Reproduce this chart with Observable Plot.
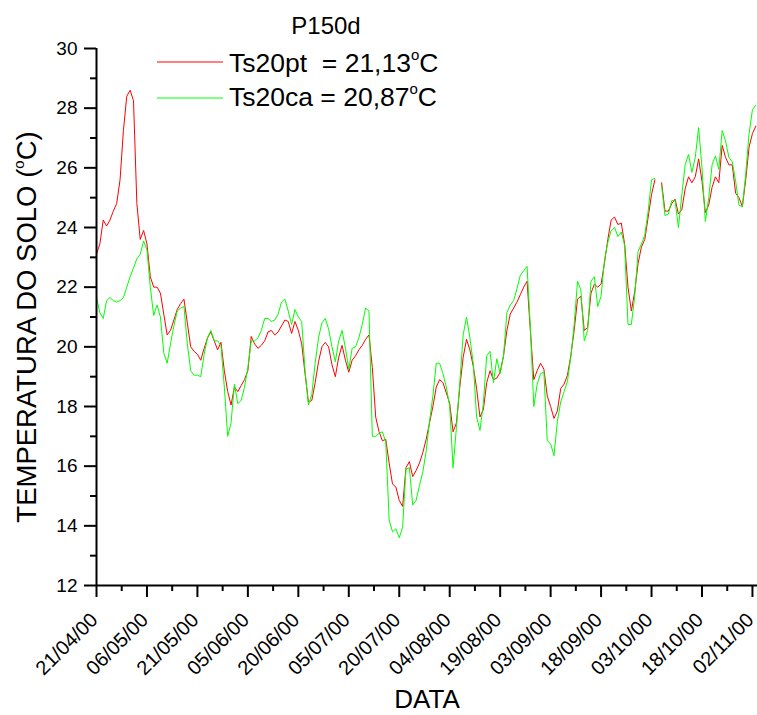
<!DOCTYPE html>
<html>
<head>
<meta charset="utf-8">
<script src="https://cdn.jsdelivr.net/npm/d3@7"></script>
<script src="https://cdn.jsdelivr.net/npm/@observablehq/plot@0.6"></script>
<style>
html, body { margin: 0; padding: 0; background: #fff; }
#chart { position: relative; width: 757px; height: 715px; }
</style>
</head>
<body>
<div id="chart"></div>
<script>
// ---- data (daily values from 21/04/00) ----
const startDate = [2000, 3, 21];
const ts20pt = [
  23.1, 23.45, 24.25, 24.05, 24.25, 24.55, 24.8, 25.6, 27.25, 28.4,
  28.6, 28.25, 24.8, 23.6, 23.9, 23.45, 22.35, 22.0, 22.0, 21.8,
  21.1, 20.4, 20.55, 20.9, 21.25, 21.45, 21.6, 20.8, 20.0, 19.85,
  19.75, 19.55, 19.95, 20.3, 20.5, 20.2, 19.9, 20.15, 19.2, 18.5,
  18.05, 18.65, 18.5, 18.7, 18.9, 19.2, 20.35, 20.1, 19.95, 20.05,
  20.2, 20.5, 20.55, 20.4, 20.5, 20.7, 20.9, 20.85, 20.45, 20.85,
  20.55, 20.1, 19.1, 18.15, 18.2, 18.8, 19.5, 20.0, 20.15, 20.0,
  19.4, 19.0, 19.65, 20.05, 19.55, 19.15, 19.55, 19.7, 19.9, 20.05,
  20.25, 20.4, 19.3, 17.65, 17.15, 16.85, 16.9, 16.1, 15.4, 15.3,
  14.85, 14.65, 15.95, 16.15, 15.65, 15.85, 16.1, 16.45, 16.9, 17.45,
  18.0, 18.65, 18.9, 18.8, 18.45, 18.1, 17.15, 17.45, 18.65, 19.65,
  20.25, 19.9, 19.35, 18.6, 17.65, 17.9, 18.8, 19.2, 18.9, 18.95,
  19.15, 19.7, 20.55, 21.1, 21.3, 21.5, 21.75, 22.0, 22.2, 20.5,
  18.9, 19.2, 19.45, 19.25, 18.35, 18.0, 17.6, 17.85, 18.6, 18.75,
  19.05, 19.7, 20.55, 21.6, 21.7, 20.55, 20.65, 21.8, 22.1, 22.0,
  22.1, 22.8, 23.6, 24.25, 24.35, 24.1, 24.15, 23.45, 22.0, 21.2,
  21.85, 22.8, 23.35, 23.6, 24.35, 25.1, 25.6, null, 25.5, 24.55,
  24.55, 24.8, 24.95, 24.45, 24.6, 25.3, 25.7, 25.5, 25.7, 26.3,
  25.55, 24.5, 24.75, 25.35, 25.7, 25.5, 26.75, 26.35, 26.1, 26.1,
  25.15, 25.0, 24.7, 25.6, 26.7, 27.15, 27.4
];
const ts20ca = [
  21.65, 21.15, 20.95, 21.55, 21.65, 21.55, 21.5, 21.55, 21.65, 22.0,
  22.35, 22.65, 22.95, 23.1, 23.55, 23.25, 22.0, 21.05, 21.4, 21.0,
  19.8, 19.45, 20.1, 20.7, 21.2, 21.3, 21.35, 20.1, 19.2, 19.05,
  19.05, 19.0, 19.75, 20.3, 20.55, 20.2, 20.2, 20.05, 18.65, 17.0,
  17.45, 18.75, 18.1, 18.2, 18.65, 19.3, 20.2, 20.2, 20.3, 20.55,
  20.95, 20.95, 20.85, 20.9, 21.1, 21.5, 21.6, 21.2, 20.75, 21.25,
  21.0, 20.85, 19.2, 18.05, 18.4, 19.45, 20.3, 20.8, 20.95, 20.6,
  20.0, 19.5, 20.2, 20.55, 19.95, 19.25, 19.95, 20.0, 20.3, 20.75,
  21.3, 21.2, 17.0, 17.0, 17.1, 17.15, 16.8, 14.2, 13.8, 13.9,
  13.6, 13.95, 15.9, 15.95, 14.7, 14.85, 15.35, 15.8, 16.5, 17.5,
  18.35, 19.45, 19.45, 19.1, 18.65, 18.0, 15.95, 17.3, 18.8, 20.4,
  21.0, 20.3, 19.45, 17.65, 17.2, 18.1, 19.7, 19.85, 18.8, 19.6,
  19.1, 19.7, 21.15, 21.4, 21.55, 21.95, 22.4, 22.55, 22.7, 20.6,
  18.0, 18.75, 19.1, 19.15, 16.85, 16.75, 16.35, 17.5, 18.15, 18.5,
  18.85, 19.65, 20.75, 22.2, 21.9, 20.2, 20.55, 22.2, 22.35, 21.35,
  21.7, 22.9, 23.5, 23.9, 24.0, 23.7, 23.85, 23.4, 20.75, 20.75,
  21.7, 23.2, 23.45, 23.75, 24.55, 25.6, 25.65, null, 25.4, 24.4,
  24.45, 24.9, 24.9, 24.0, 25.1, 26.1, 26.45, 25.85, 26.35, 27.35,
  26.0, 24.2, 25.0, 26.1, 26.4, 25.95, 27.25, 26.9, 26.35, 26.2,
  25.55, 24.75, 24.7, 25.8, 27.15, 27.95, 28.1
];
const seriesNames = ["Ts20pt  = ", "Ts20ca = "];
const seriesMeans = ["21,13", "20,87"];
const seriesColors = ["#ff0000", "#00ff00"];
const xTickLabels = ["21/04/00", "06/05/00", "21/05/00", "05/06/00", "20/06/00", "05/07/00", "20/07/00",
  "04/08/00", "19/08/00", "03/09/00", "18/09/00", "03/10/00", "18/10/00", "02/11/00"];
const yTickLabels = [12, 14, 16, 18, 20, 22, 24, 26, 28, 30];
const yMinorTicks = [13, 15, 17, 19, 21, 23, 25, 27, 29];
const titleText = "P150d";
const xLabel = "DATA";
const yLabel = "TEMPERATURA DO SOLO (";

// ---- build ----
const DAY = 864e5;
const t0 = Date.UTC(startDate[0], startDate[1], startDate[2]);
const parseTick = s => { const [d, m, y] = s.split("/").map(Number); return new Date(Date.UTC(2000 + y, m - 1, d)); };
const xMajor = xTickLabels.map(parseTick);
const xMinor = xMajor.slice(0, -1).map(d => new Date(+d + 7.5 * DAY));
const rowsOf = arr => arr.map((v, i) => ({date: new Date(t0 + i * DAY), value: v}));
const series = [ts20pt, ts20ca].map(rowsOf);
const fmt = d3.utcFormat("%d/%m/%y");
const FONT = "'Liberation Sans', Arial, Helvetica, sans-serif";

const chart = Plot.plot({
  width: 757, height: 715,
  marginLeft: 96, marginRight: 0, marginTop: 48, marginBottom: 130,
  style: {fontFamily: FONT, color: "#000", background: "#fff", overflow: "visible"},
  x: {type: "utc", domain: [new Date(t0), new Date(t0 + 196.5 * DAY)], label: null},
  y: {domain: [12, 30], label: null},
  marks: [
    Plot.lineY(series[0], {x: "date", y: "value", stroke: seriesColors[0], strokeWidth: 1}),
    Plot.lineY(series[1], {x: "date", y: "value", stroke: seriesColors[1], strokeWidth: 1}),
    Plot.ruleY([12], {stroke: "#000", strokeWidth: 2}),
    Plot.ruleX([new Date(t0)], {stroke: "#000", strokeWidth: 2}),
    Plot.axisX(xMajor, {tickSize: 12, strokeWidth: 2, tickFormat: fmt, tickRotate: -45, fontSize: 20, tickPadding: 17, label: null}),
    Plot.axisX(xMinor, {tickSize: 6, strokeWidth: 2, tickFormat: () => "", label: null}),
    Plot.axisY(yTickLabels, {tickSize: 12, strokeWidth: 2, fontSize: 19, tickPadding: 7, label: null}),
    Plot.axisY(yMinorTicks, {tickSize: 6, strokeWidth: 2, tickFormat: () => "", label: null})
  ]
});
document.getElementById("chart").appendChild(chart);

const svg = d3.select(chart);
// nudge rotated date labels slightly along their baseline so the last one stays inside
svg.selectAll("text").filter(function () { return xTickLabels.includes(this.textContent); })
  .attr("dx", -3);

const g = svg.append("g").attr("font-family", FONT).attr("fill", "#000").attr("text-anchor", "start");

// title
g.append("text").attr("x", 326).attr("y", 34).attr("text-anchor", "middle")
  .attr("font-size", 24).text(titleText);

// legend
seriesNames.forEach((name, i) => {
  const ly = 62 + 36 * i;
  g.append("line").attr("x1", 157).attr("x2", 223).attr("y1", ly).attr("y2", ly)
    .attr("stroke", seriesColors[i]).attr("stroke-width", 1);
  const t = g.append("text").attr("x", 229).attr("y", 71.5 + 34.5 * i).attr("text-anchor", "start")
    .attr("font-size", 26.5).attr("xml:space", "preserve").style("white-space", "pre");
  t.append("tspan").text(name + seriesMeans[i]);
  t.append("tspan").attr("font-size", 15).attr("dy", -12).text("o");
  t.append("tspan").attr("dy", 12).text("C");
});

// axis labels
g.append("text").attr("x", 427).attr("y", 708).attr("text-anchor", "middle")
  .attr("font-size", 26).text(xLabel);
const yl = g.append("text").attr("transform", "translate(36,327) rotate(-90)")
  .attr("text-anchor", "middle").attr("font-size", 27.5);
yl.append("tspan").text(yLabel);
yl.append("tspan").attr("font-size", 15).attr("dy", -12).text("o");
yl.append("tspan").attr("dy", 12).text("C)");
</script>
</body>
</html>
